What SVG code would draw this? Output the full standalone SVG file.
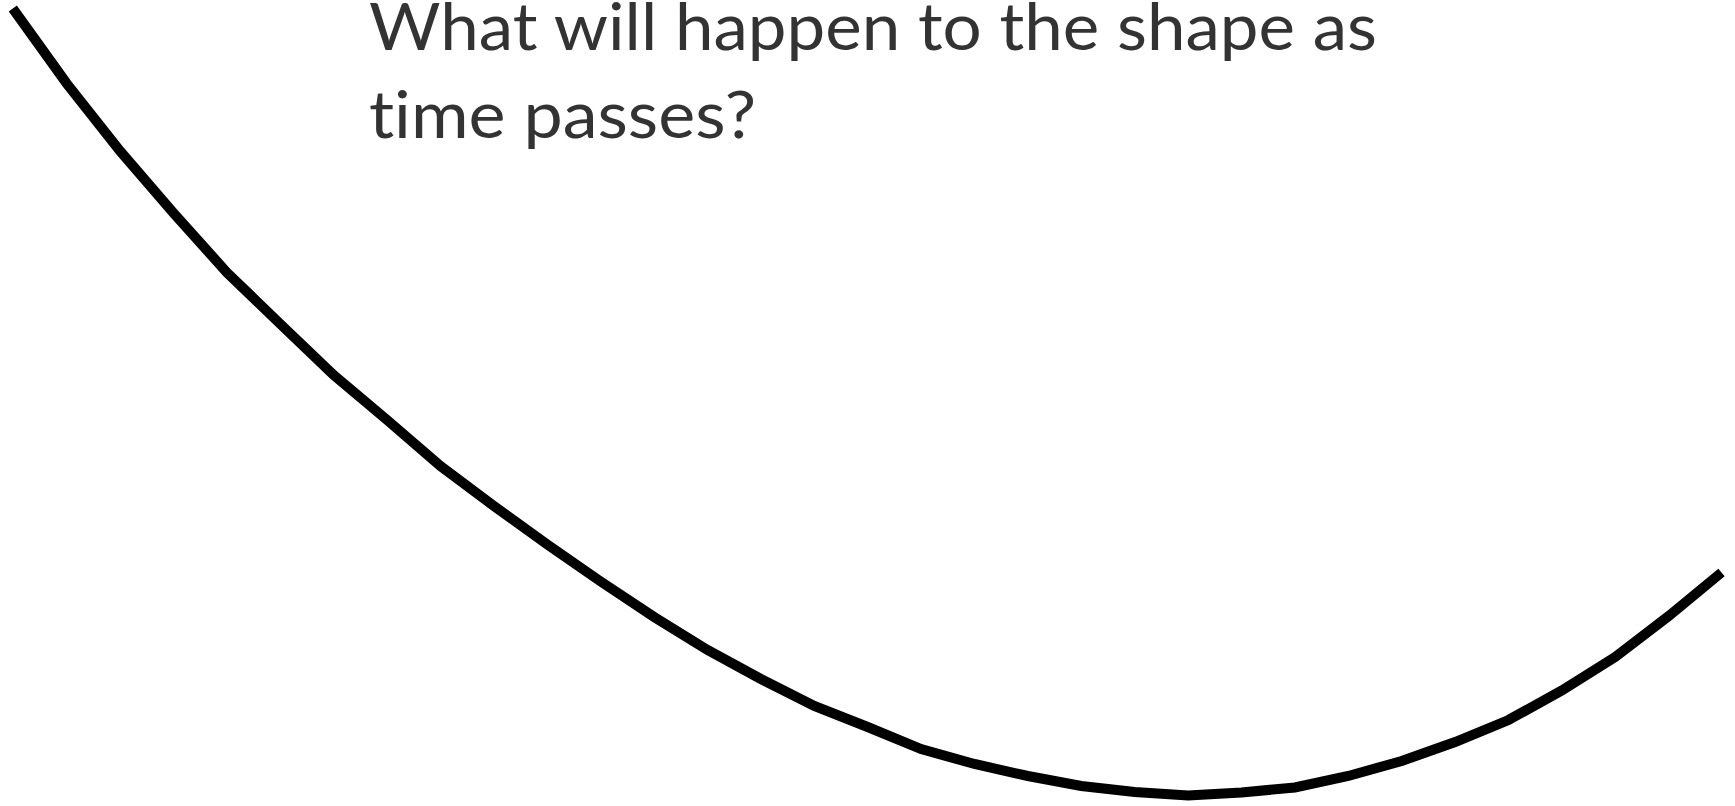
<svg xmlns="http://www.w3.org/2000/svg" width="1735" height="806" viewBox="0 0 1735 806">
  <style>
    .curve { fill: none; stroke: #000000; stroke-width: 10; stroke-linecap: butt; stroke-linejoin: miter; }
    .q { font-family: "Lato", "Open Sans", "Liberation Sans", sans-serif; font-size: 66px; fill: #333333; font-variant-ligatures: none; font-feature-settings: "liga" 0; }
  </style>
  <rect width="1735" height="806" fill="#ffffff"/>
  <g id="question">
    <text class="q" x="369" y="50" textLength="1008" lengthAdjust="spacingAndGlyphs">What will happen to the shape as</text>
    <text class="q" x="369" y="137.5" textLength="387" lengthAdjust="spacingAndGlyphs">time passes?</text>
  </g>
  <g id="curve">
    <polyline class="curve" points="12.8,8.5 66.7,83.5 120.1,151 173.5,213 226.9,272.5 280.3,324 333.7,375 387.1,420 440.5,466 493.9,506 547.3,544.5 600.7,581.5 654.1,617 707.5,650 760.9,679 814.3,706 867.7,727 921.1,749 974.5,764 1027.9,776 1081.3,786 1134.7,792 1188.1,795.5 1241.5,792.5 1294.9,787.5 1348.3,776 1401.7,761 1455.1,742 1508.5,720 1561.9,690.5 1615.3,657 1668.7,616 1721.5,572.5"/>
  </g>
</svg>
